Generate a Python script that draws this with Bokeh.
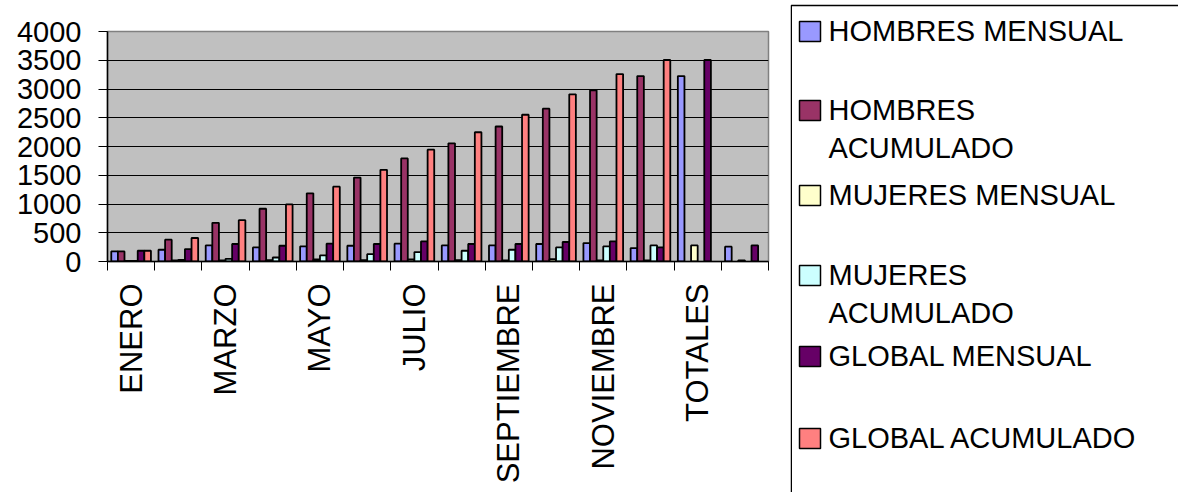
import numpy as np
from bokeh.plotting import figure
from bokeh.layouts import row
from bokeh.models import ColumnDataSource, Range1d, FixedTicker
from bokeh.core.properties import value
from bokeh.embed import file_html
from bokeh.resources import INLINE

categories = ["ENERO", "FEBRERO", "MARZO", "ABRIL", "MAYO", "JUNIO", "JULIO",
              "AGOSTO", "SEPTIEMBRE", "OCTUBRE", "NOVIEMBRE", "DICIEMBRE",
              "TOTALES", "PROMEDIO"]
nan = float("nan")
hombres_mensual = [175, 204, 280, 245, 263, 274, 310, 280, 280, 304, 321, 234, 3224, 257]
hombres_acumulado = [175, 380, 672, 917, 1185, 1460, 1793, 2056, 2348, 2657, 2978, 3224, nan, nan]
mujeres_mensual = [10, 19, 18, 23, 35, 23, 36, 23, 17, 41, 18, 17, 280, 20]
mujeres_acumulado = [10, 29, 47, 70, 105, 128, 164, 187, 204, 245, 263, 280, nan, nan]
global_mensual = [187, 216, 304, 274, 310, 304, 350, 304, 304, 339, 350, 245, 3504, 280]
global_acumulado = [187, 409, 718, 993, 1302, 1594, 1945, 2248, 2552, 2908, 3259, 3504, nan, nan]
y_ticks = [0, 500, 1000, 1500, 2000, 2500, 3000, 3500, 4000]

legend_lines = [["HOMBRES MENSUAL"], ["HOMBRES", "ACUMULADO"], ["MUJERES MENSUAL"],
                ["MUJERES", "ACUMULADO"], ["GLOBAL MENSUAL"], ["GLOBAL ACUMULADO"]]
series_values = [hombres_mensual, hombres_acumulado, mujeres_mensual,
                 mujeres_acumulado, global_mensual, global_acumulado]
colors = ["#9999FF", "#993366", "#FFFFCC", "#CCFFFF", "#660066", "#FF8080"]

FONT = "Liberation Sans"
FS = "29px"

p = figure(width=790, height=492, output_backend="svg", toolbar_location=None,
           x_range=Range1d(0, len(categories)), y_range=Range1d(0, 4000),
           min_border_left=107, min_border_right=22, min_border_top=31,
           min_border_bottom=231)
p.background_fill_color = "#C0C0C0"
p.border_fill_color = "white"
p.outline_line_color = "#808080"
p.outline_line_width = 1.5

bw = 0.14
for k, (vals, col) in enumerate(zip(series_values, colors)):
    xs, tops = [], []
    for i, v in enumerate(vals):
        if not np.isnan(v):
            xs.append(i + 0.5 + (k - 2.5) * bw)
            tops.append(v)
    src = ColumnDataSource(dict(x=xs, top=tops))
    p.vbar(x="x", top="top", width=bw, source=src, fill_color=col,
           line_color="black", line_width=1.8)

# x axis
label_ticks = [i + 0.5 for i in range(0, len(categories), 2)]
p.xaxis.ticker = FixedTicker(ticks=label_ticks, minor_ticks=list(range(len(categories) + 1)))
p.xaxis.major_label_overrides = {i + 0.5: categories[i] for i in range(0, len(categories), 2)}
p.xaxis.major_label_orientation = np.pi / 2
p.xaxis.major_tick_out = 0
p.xaxis.major_tick_in = 0
p.xaxis.minor_tick_out = 9
p.xaxis.minor_tick_in = 0
p.xaxis.minor_tick_line_color = "black"
p.xaxis.axis_line_color = "black"
p.xaxis.axis_line_width = 1.5
p.xaxis.major_label_standoff = 13
p.xaxis.major_label_text_font = FONT
p.xaxis.major_label_text_font_size = "31px"
p.xaxis.major_label_text_color = "black"

# y axis
p.yaxis.ticker = FixedTicker(ticks=y_ticks)
p.yaxis.major_tick_out = 9
p.yaxis.major_tick_in = 0
p.yaxis.minor_tick_line_color = None
p.yaxis.major_tick_line_color = "black"
p.yaxis.axis_line_color = "black"
p.yaxis.axis_line_width = 1.5
p.yaxis.major_label_standoff = 17
p.yaxis.major_label_text_font = FONT
p.yaxis.major_label_text_font_size = FS
p.yaxis.major_label_text_color = "black"

p.xgrid.grid_line_color = None
p.ygrid.grid_line_color = "black"
p.ygrid.grid_line_width = 1.2

# legend panel as its own figure (pixel-like coordinates, y downwards)
leg = figure(width=388, height=492, output_backend="svg", toolbar_location=None,
             x_range=Range1d(0, 388), y_range=Range1d(492, 0),
             min_border=0, min_border_left=0, min_border_right=0,
             min_border_top=0, min_border_bottom=0)
for fig in (p, leg):
    if "frame_align" in fig.properties():
        fig.frame_align = False
leg.axis.visible = False
leg.grid.visible = False
leg.outline_line_color = None
leg.background_fill_color = "white"
leg.border_fill_color = "white"
leg.line(x=[0.75, 0.75, 388], y=[492, 5, 5], line_color="black", line_width=1.5)

baselines = [41, 120, 205, 285, 366, 448]
line_gap = 38
text_shift = 11
sq_x, sq_y, tx, ty, tlabels = [], [], [], [], []
for lines, b in zip(legend_lines, baselines):
    sq_x.append(19.5)
    sq_y.append(b - 10)
    for j, t in enumerate(lines):
        tx.append(38)
        ty.append(b - text_shift + j * line_gap)
        tlabels.append(t)
leg.rect(x=sq_x, y=sq_y, width=21, height=20, fill_color=colors,
         line_color="black", line_width=1.5)
leg.text(x=tx, y=ty, text=tlabels, text_font=value(FONT), text_font_size=FS,
         text_baseline="alphabetic", text_align="left", text_color="black")

layout = row(p, leg)
open("out.html", "w").write(file_html(layout, INLINE))
